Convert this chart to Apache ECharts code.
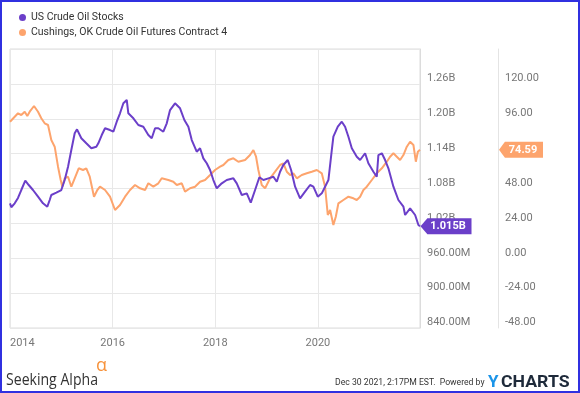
<!DOCTYPE html>
<html>
<head>
<meta charset="utf-8">
<script src="https://cdn.jsdelivr.net/npm/echarts@6/dist/echarts.min.js"></script>
<style>
  html, body { margin: 0; padding: 0; background: #fff; }
  #wrap { position: relative; width: 580px; height: 393px; }
  #chart { position: absolute; left: 0; top: 0; width: 580px; height: 393px; }
  #frame { position: absolute; left: 0; top: 0; width: 580px; height: 393px; box-sizing: border-box; border: 2px solid #3030e0; pointer-events: none; }
</style>
</head>
<body>
<div id="wrap"><div id="chart"></div><div id="frame"></div></div>
<script>
// ---- Data (decimal years) ----
var seriesNames = ['US Crude Oil Stocks', 'Cushings, OK Crude Oil Futures Contract 4'];

// US Crude Oil Stocks, billions of barrels
var stockYears = [2014.00,2014.025,2014.092,2014.156,2014.220,2014.298,2014.365,2014.448,2014.546,2014.643,2014.727,2014.774,2014.805,2014.903,2015.000,2015.066,2015.131,2015.195,2015.261,2015.306,2015.390,2015.487,2015.585,2015.682,2015.721,2015.788,2015.852,2015.949,2016.014,2016.080,2016.144,2016.209,2016.275,2016.306,2016.404,2016.501,2016.598,2016.696,2016.762,2016.827,2016.891,2016.988,2017.055,2017.119,2017.216,2017.314,2017.398,2017.476,2017.542,2017.639,2017.704,2017.768,2017.834,2017.899,2017.963,2018.029,2018.127,2018.224,2018.353,2018.419,2018.517,2018.614,2018.692,2018.776,2018.860,2018.938,2019.035,2019.133,2019.199,2019.263,2019.327,2019.413,2019.478,2019.556,2019.653,2019.750,2019.848,2019.912,2019.998,2020.076,2020.140,2020.205,2020.271,2020.302,2020.388,2020.466,2020.530,2020.595,2020.661,2020.758,2020.823,2020.920,2020.984,2021.082,2021.148,2021.179,2021.246,2021.310,2021.374,2021.472,2021.569,2021.667,2021.700,2021.797,2021.895,2021.959,2021.99];
var stockValues = [1.0545,1.0477,1.0545,1.0637,1.0774,1.0934,1.0860,1.0774,1.0659,1.0545,1.0487,1.0602,1.0688,1.0728,1.0774,1.0946,1.1175,1.1462,1.1750,1.1818,1.1664,1.1578,1.1492,1.1519,1.1578,1.1720,1.1836,1.1806,1.1777,1.1949,1.2094,1.2266,1.2323,1.2094,1.2008,1.1892,1.1863,1.1720,1.1664,1.1836,1.1836,1.1777,1.1922,1.2150,1.2266,1.2180,1.1978,1.1863,1.1634,1.1433,1.1492,1.1319,1.1234,1.1118,1.0946,1.0803,1.0889,1.0946,1.0975,1.0889,1.0688,1.0717,1.0556,1.0774,1.0993,1.0946,1.0975,1.1003,1.0917,1.1089,1.1204,1.1290,1.1118,1.0831,1.0631,1.0745,1.0860,1.0831,1.0659,1.0717,1.0831,1.0946,1.1462,1.1691,1.1863,1.1949,1.1863,1.1691,1.1492,1.1347,1.1290,1.1406,1.1234,1.1089,1.1003,1.1376,1.1406,1.1290,1.1147,1.0831,1.0602,1.0487,1.0344,1.0459,1.0344,1.0172,1.015];

// Cushing, OK Crude Oil Futures Contract 4, USD
var futYears = [2014.00,2014.025,2014.092,2014.156,2014.220,2014.287,2014.337,2014.384,2014.468,2014.546,2014.610,2014.676,2014.741,2014.805,2014.871,2014.936,2014.988,2015.019,2015.066,2015.131,2015.195,2015.261,2015.339,2015.423,2015.487,2015.554,2015.637,2015.702,2015.754,2015.852,2015.949,2016.047,2016.144,2016.242,2016.339,2016.437,2016.534,2016.632,2016.696,2016.793,2016.891,2016.957,2017.086,2017.183,2017.250,2017.347,2017.411,2017.509,2017.606,2017.704,2017.801,2017.899,2017.996,2018.094,2018.158,2018.255,2018.353,2018.450,2018.581,2018.678,2018.743,2018.795,2018.840,2018.906,2018.971,2019.035,2019.068,2019.166,2019.263,2019.327,2019.394,2019.458,2019.522,2019.589,2019.686,2019.784,2019.881,2019.979,2020.076,2020.140,2020.193,2020.238,2020.302,2020.349,2020.400,2020.497,2020.595,2020.692,2020.758,2020.823,2020.887,2020.953,2021.051,2021.148,2021.246,2021.343,2021.407,2021.472,2021.538,2021.602,2021.667,2021.733,2021.797,2021.862,2021.909,2021.948,2021.99];
var futValues = [93.97,92.87,97.41,99.75,98.58,100.85,97.89,100.85,104.77,100.85,96.31,92.87,91.70,81.38,76.77,63.00,53.85,49.24,55.02,56.12,49.24,55.02,61.90,60.73,61.90,56.12,42.36,46.97,49.24,46.97,42.36,33.20,36.65,42.36,46.97,50.41,48.14,46.97,51.58,49.24,51.58,55.02,53.85,52.68,50.41,51.58,45.80,48.14,49.24,52.68,53.85,57.29,60.73,63.00,64.17,67.61,68.78,66.44,67.61,71.05,74.49,69.88,60.73,50.41,48.14,52.68,55.02,59.56,64.17,65.34,59.56,57.29,58.46,55.02,57.29,58.46,59.56,60.73,58.46,49.24,29.76,33.20,22.88,28.59,37.81,40.09,42.36,41.26,40.09,42.36,46.97,49.24,53.85,58.46,61.90,66.44,69.88,72.22,69.88,67.61,71.05,76.77,80.21,77.93,66.44,73.32,74.59];

// Axis settings (ticks)
var leftMin = 0.84, leftMax = 1.32, leftStep = 0.06;
var rightMin = -48, rightMax = 144, rightStep = 24;
var xMin = 2014, xMax = 2021.99, xStep = 2;

var stockColor = '#6b3fc9';
var futColor = '#fda46d';

function zip(a, b) { return a.map(function (v, i) { return [v, b[i]]; }); }
var lastStock = [stockYears[stockYears.length - 1], stockValues[stockValues.length - 1]];
var lastFut = [futYears[futYears.length - 1], futValues[futValues.length - 1]];

function fmtLeft(v) {
  return v >= 1 ? v.toFixed(2) + 'B' : (v * 1000).toFixed(2) + 'M';
}

var chart = echarts.init(document.getElementById('chart'), null, { renderer: 'canvas' });
var tagPath = 'path://M0,8L7,0L52,0L52,16L7,16Z';

chart.setOption({
  animation: false,
  textStyle: { fontFamily: 'Roboto' },
  legend: {
    orient: 'vertical', left: 14, top: 7, itemGap: 4,
    icon: 'circle', itemWidth: 7, itemHeight: 7,
    textStyle: { color: '#333', fontSize: 10.5, fontFamily: 'Roboto' },
    data: seriesNames
  },
  grid: { left: 10, right: 160, top: 49, bottom: 65, show: true, borderColor: '#dcdcdc', borderWidth: 1 },
  xAxis: {
    type: 'value', min: xMin, max: xMax, interval: xStep,
    axisLine: { show: false }, axisTick: { show: false },
    splitLine: { show: true, lineStyle: { color: '#e8e8e8' } },
    axisLabel: {
      color: '#777', fontSize: 11, margin: 10, alignMinLabel: 'left', showMaxLabel: false,
      formatter: function (v) { return (Math.abs(v - Math.round(v)) < 1e-6 && Math.round(v) % 2 === 0) ? String(Math.round(v)) : ''; }
    }
  },
  yAxis: [{
    type: 'value', position: 'right', min: leftMin, max: leftMax, interval: leftStep,
    axisLine: { show: true, lineStyle: { color: '#dcdcdc' } }, axisTick: { show: false },
    splitLine: { show: true, lineStyle: { color: '#e8e8e8' } },
    axisLabel: { color: '#777', fontSize: 11, margin: 7, verticalAlign: 'bottom', showMaxLabel: false, formatter: fmtLeft }
  }, {
    type: 'value', position: 'right', offset: 78, min: rightMin, max: rightMax, interval: rightStep,
    axisLine: { show: true, lineStyle: { color: '#e4e4e4' } }, axisTick: { show: false },
    splitLine: { show: false },
    axisLabel: { color: '#777', fontSize: 11, margin: 7, verticalAlign: 'bottom', showMaxLabel: false, formatter: function (v) { return v.toFixed(2); } }
  }],
  series: [{
    name: seriesNames[1], type: 'line', yAxisIndex: 1, showSymbol: false, color: futColor,
    lineStyle: { width: 2, color: futColor }, z: 2,
    data: zip(futYears, futValues),
    markPoint: {
      symbol: tagPath, symbolSize: [44, 16], symbolOffset: [101, 0], silent: true,
      itemStyle: { color: futColor },
      label: { show: true, color: '#fff', fontWeight: 'bold', fontSize: 11, fontFamily: 'Roboto', offset: [2, 0], formatter: function () { return lastFut[1].toFixed(2); } },
      data: [{ coord: lastFut }]
    }
  }, {
    name: seriesNames[0], type: 'line', yAxisIndex: 0, showSymbol: false, color: stockColor,
    lineStyle: { width: 2, color: stockColor }, z: 3,
    data: zip(stockYears, stockValues),
    markPoint: {
      symbol: tagPath, symbolSize: [51, 16], symbolOffset: [26, 0], silent: true,
      itemStyle: { color: stockColor },
      label: { show: true, color: '#fff', fontWeight: 'bold', fontSize: 11, fontFamily: 'Roboto', offset: [2, 0], formatter: function () { return lastStock[1].toFixed(3) + 'B'; } },
      data: [{ coord: lastStock }]
    }
  }],
  graphic: [
    { type: 'text', x: 6, y: 380, scaleX: 0.88, style: { text: 'Seeking Alpha', font: '16px "Open Sans"', fill: '#333', textVerticalAlign: 'middle' } },
    { type: 'text', x: 96, y: 366, style: { text: '\u03B1', font: '18px "Open Sans"', fill: '#f7923a', textVerticalAlign: 'middle' } },
    { type: 'text', x: 335, y: 383, scaleX: 0.91, style: { text: 'Dec 30 2021, 2:17PM EST.  Powered by', font: '9.5px Roboto', fill: '#333', textVerticalAlign: 'middle' } },
    { type: 'text', x: 488, y: 383, style: { text: 'Y', font: 'bold 17px Roboto', fill: '#1b94e8', textVerticalAlign: 'middle' } },
    { type: 'text', x: 501, y: 383, scaleX: 1.04, style: { text: 'CHARTS', font: 'bold 17px Roboto', fill: '#1e2a3a', textVerticalAlign: 'middle' } }
  ]
});
</script>
</body>
</html>
